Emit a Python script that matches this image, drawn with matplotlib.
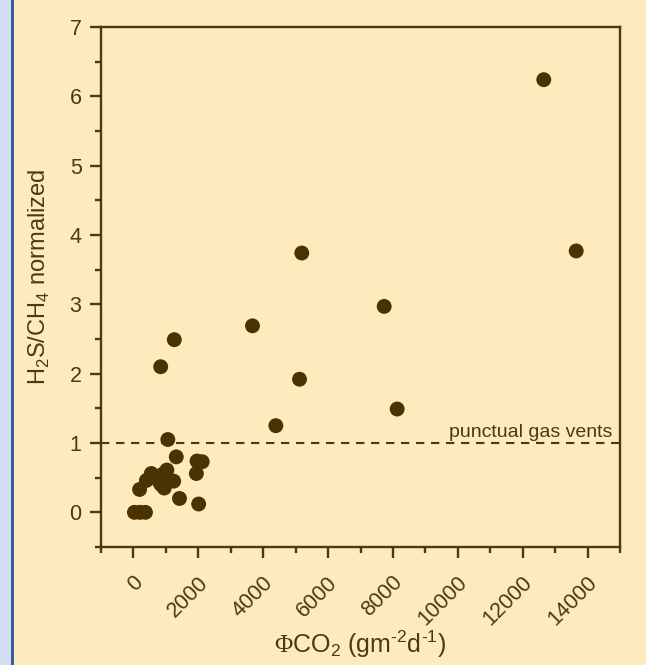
import matplotlib
matplotlib.use("Agg")

import matplotlib.pyplot as plt
from matplotlib.patches import Rectangle
from matplotlib.ticker import MultipleLocator
from matplotlib.transforms import ScaledTranslation

# ---------------------------
# Data
# ---------------------------
co2_flux = [30, 200, 370, 190,
            400, 550, 700, 800, 900, 1030, 950, 1100, 1240, 850,
            1420, 2010, 1940, 1960, 2120, 1320,
            1060, 840, 1260, 3670, 4390, 5120, 5190, 7730, 8130,
            12650, 13650]
h2s_ch4 = [0.0, 0.0, 0.0, 0.33,
           0.46, 0.56, 0.50, 0.44, 0.55, 0.61, 0.35, 0.47, 0.45, 0.40,
           0.20, 0.12, 0.56, 0.74, 0.73, 0.80,
           1.05, 2.10, 2.49, 2.69, 1.25, 1.92, 3.74, 2.97, 1.49,
           6.24, 3.77]

vent_level = 1.0
xticks = [0, 2000, 4000, 6000, 8000, 10000, 12000, 14000]

# ---------------------------
# Colours / fonts
# ---------------------------
BG = "#feebbd"
INK = "#4a3a10"
DOT = "#4a3300"

plt.rcParams["font.family"] = ["Liberation Sans", "DejaVu Sans"]
plt.rcParams["mathtext.fontset"] = "custom"
plt.rcParams["mathtext.rm"] = "Liberation Serif"
plt.rcParams["mathtext.sf"] = "Liberation Sans"

fig = plt.figure(figsize=(6.46, 6.65), dpi=100, facecolor=BG)

# left blue band
fig.patches.append(Rectangle((0, 0), 11 / 646, 1, transform=fig.transFigure,
                             facecolor="#d3def3", edgecolor="none", zorder=0))
fig.patches.append(Rectangle((11 / 646, 0), 2.5 / 646, 1, transform=fig.transFigure,
                             facecolor="#3d5c9c", edgecolor="none", zorder=0))

ax = fig.add_axes([101 / 646, 1 - 547 / 665, 519 / 646, 520 / 665])
ax.set_facecolor(BG)

ax.scatter(co2_flux, h2s_ch4, s=115, color=DOT, edgecolors="none", zorder=3)

ax.axhline(vent_level, color=INK, lw=1.5, linestyle=(0, (4, 3.2)), zorder=2)
ax.text(14770, vent_level + 0.09, "punctual gas vents", ha="right", va="baseline",
        fontsize=14, color=INK)

ax.set_xlim(-1000, 15000)
ax.set_ylim(-0.5, 7)

ax.set_xticks(xticks)
ax.xaxis.set_minor_locator(MultipleLocator(1000))
ax.yaxis.set_major_locator(MultipleLocator(1))
ax.yaxis.set_minor_locator(MultipleLocator(0.5))

for side in ["left", "bottom", "top", "right"]:
    ax.spines[side].set_color(INK)
    ax.spines[side].set_linewidth(1.7)

ax.tick_params(which="both", direction="out", color=INK, width=1.7,
               labelcolor=INK, labelsize=15.5, top=False, right=False)
ax.tick_params(which="major", length=8)
ax.tick_params(which="minor", length=4.5)
ax.tick_params(axis="x", pad=10)
ax.tick_params(axis="y", pad=6)

offset = ScaledTranslation(14 / 100, 0, fig.dpi_scale_trans)
for lab in ax.get_xticklabels():
    lab.set_rotation(45)
    lab.set_ha("right")
    lab.set_transform(lab.get_transform() + offset)

ax.set_ylabel(r"H$_\mathsf{2}$S/CH$_\mathsf{4}$ normalized", fontsize=17, color=INK)
ax.yaxis.set_label_coords(-0.094, 0.52)
ax.set_xlabel(r"$\Phi$CO$_\mathsf{2}$ (gm$^\mathsf{‐2}$d$^\mathsf{‐1}$)", fontsize=18,
              color=INK, labelpad=-1)

fig.savefig("out.png", dpi=100, facecolor=BG)
